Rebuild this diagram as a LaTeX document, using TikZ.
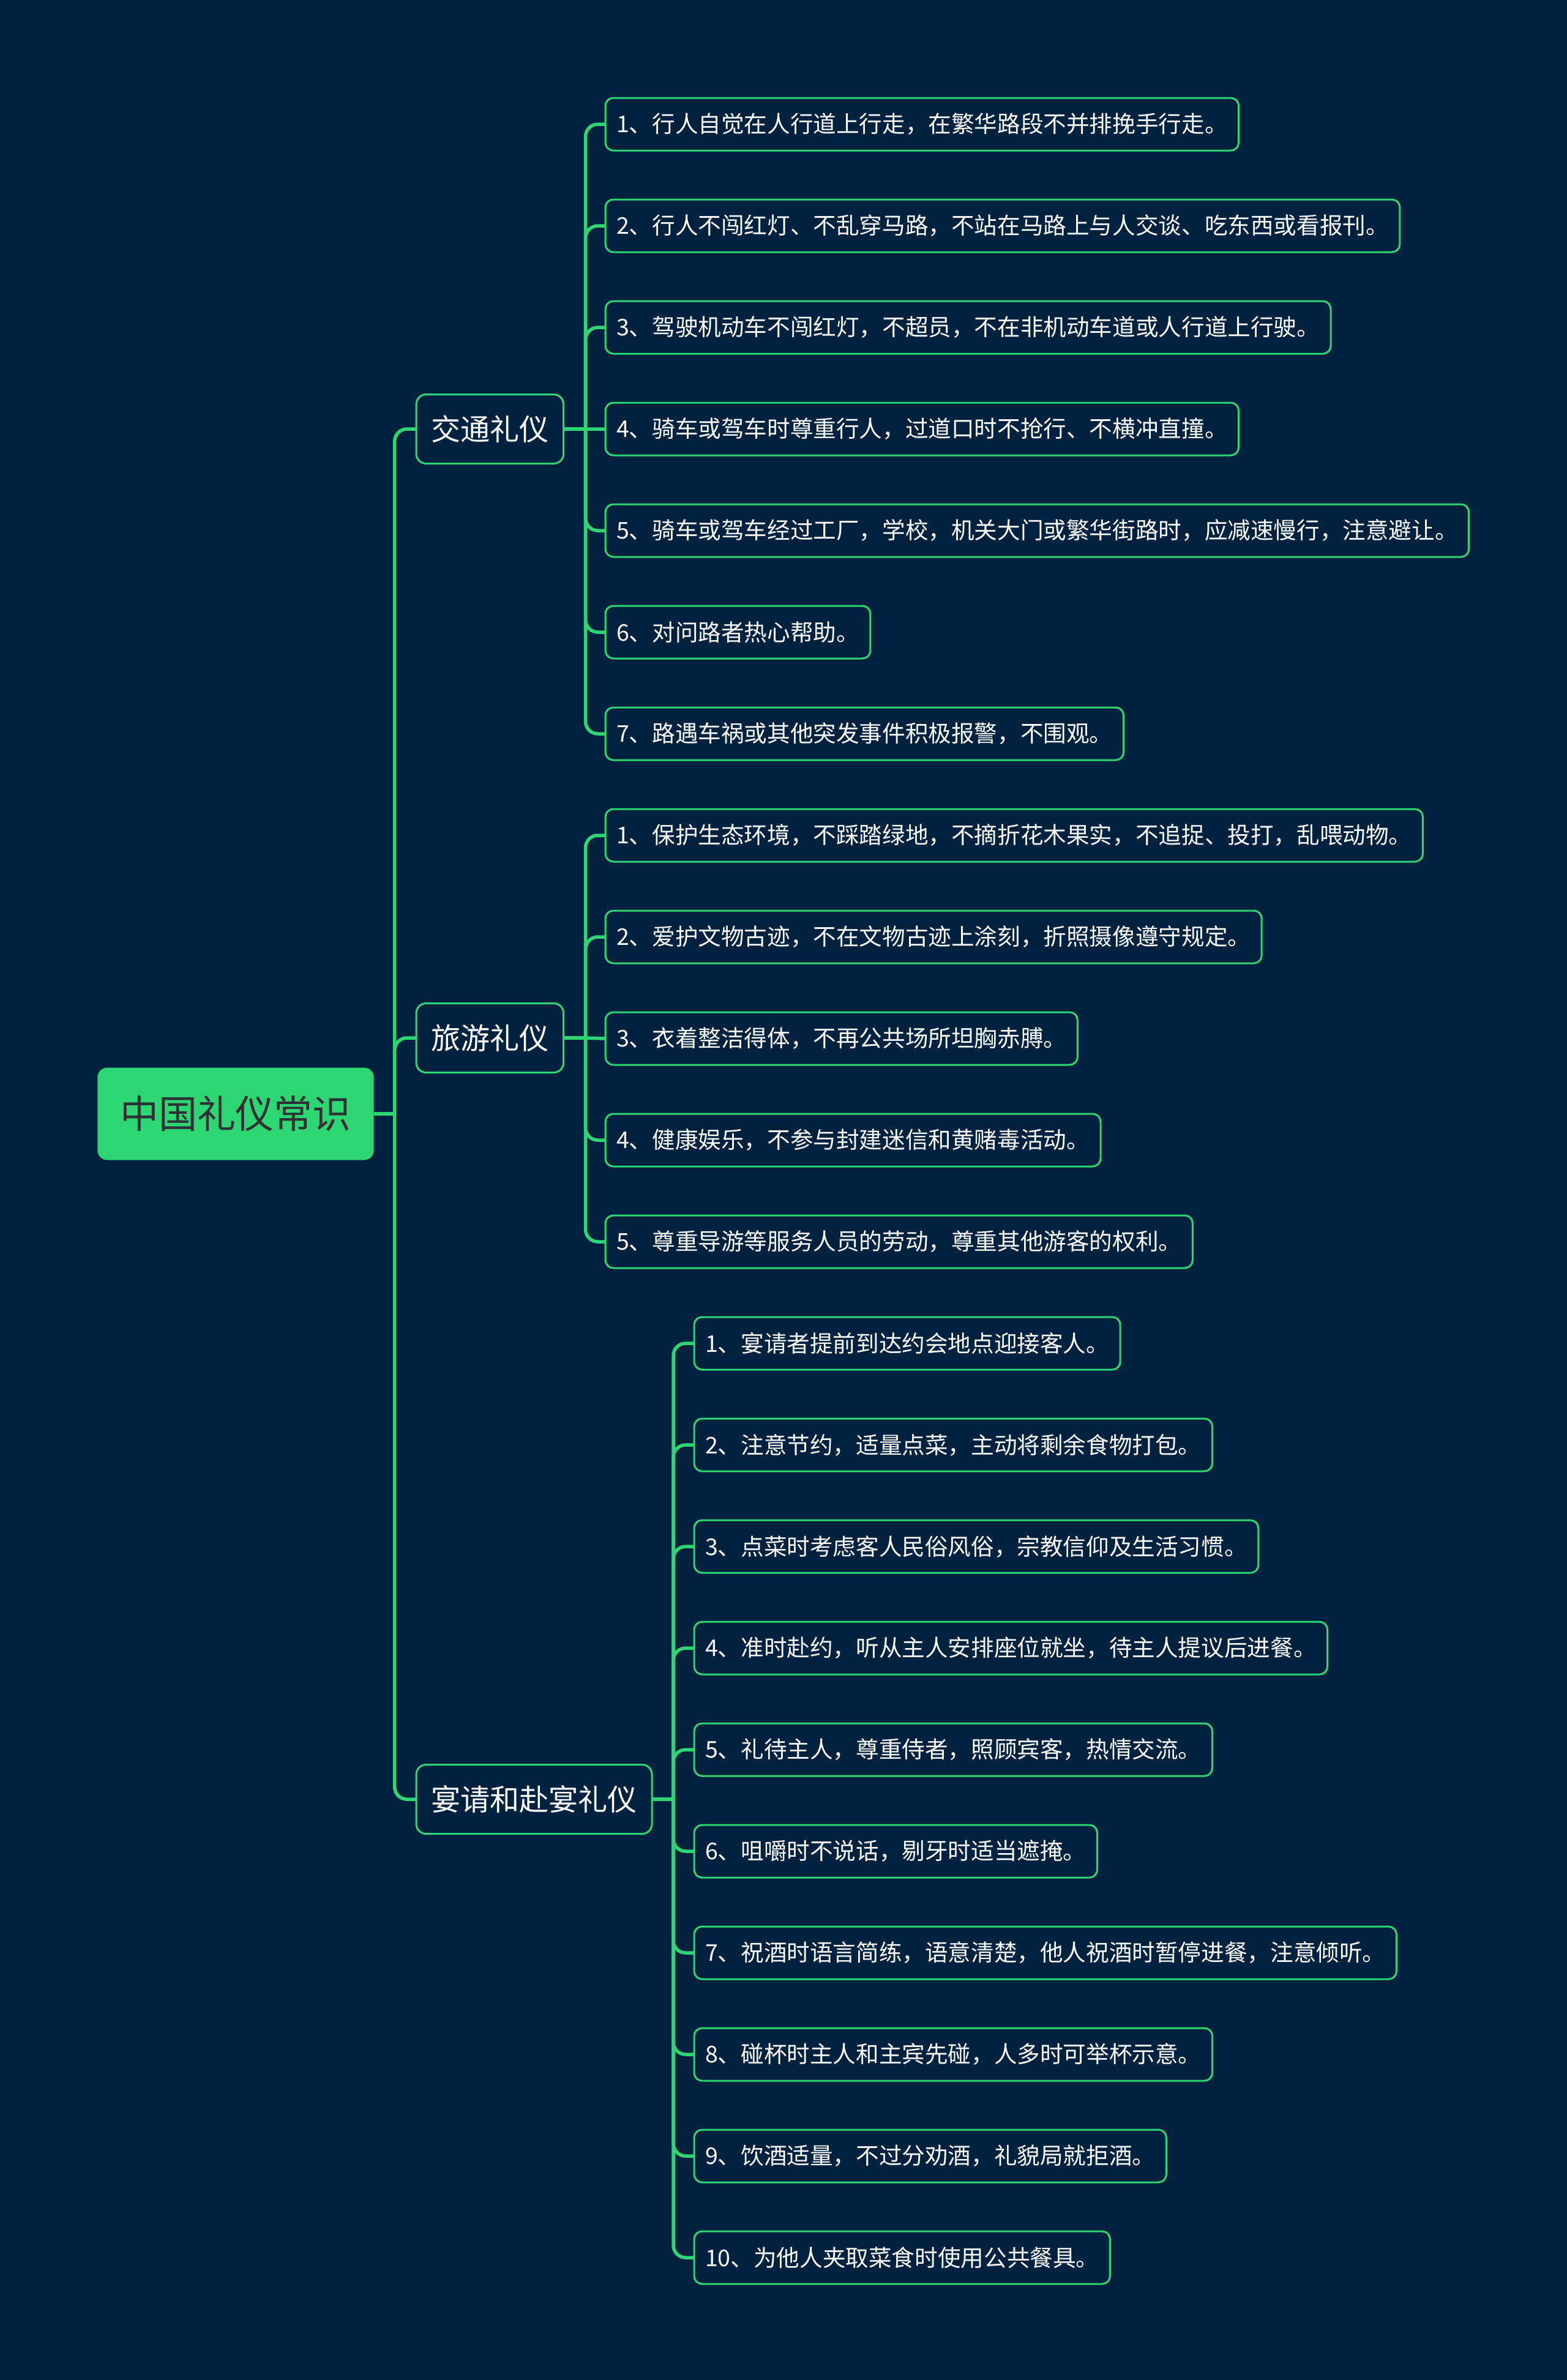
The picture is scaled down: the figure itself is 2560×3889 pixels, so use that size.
\documentclass[tikz,border=0pt]{standalone}
\usepackage{fontspec}
\setmainfont{Noto Sans CJK SC}
\usetikzlibrary{positioning}
\definecolor{night}{RGB}{1,34,63}
\definecolor{mint}{RGB}{46,213,115}
\definecolor{ink}{RGB}{45,48,52}

\begin{document}
\begin{tikzpicture}[x=0.1mm,y=-0.1mm,node distance=8mm,
    root/.style={fill=mint,rounded corners=1.6mm,text=ink,font=\fontsize{17.9pt}{20pt}\selectfont,minimum height=15.1mm,inner xsep=3.7mm,outer sep=0pt},
    branch/.style={draw=mint,line width=0.3mm,rounded corners=1.6mm,text=white,font=\fontsize{13.7pt}{16pt}\selectfont,minimum height=11.3mm,inner xsep=2.4mm,inner ysep=0pt,outer sep=0pt,anchor=west},
    leaf/.style={draw=mint,line width=0.3mm,rounded corners=1.3mm,text=white,font=\fontsize{10.7pt}{12pt}\selectfont,minimum height=8.6mm,inner xsep=1.8mm,inner ysep=0pt,outer sep=0pt},
    link/.style={draw=mint,line width=0.55mm,rounded corners=2mm}]
    \fill[night] (0,0) rectangle (2560,3889);
    \useasboundingbox (0,0) rectangle (2560,3889);

    \node[root] (root) at (385,1820) {中国礼仪常识};
    \node[branch] (b1) at (680,701) {交通礼仪};
    \node[branch] (b2) at (680,1696) {旅游礼仪};
    \node[branch] (b3) at (680,2940) {宴请和赴宴礼仪};

    % 交通礼仪
    \node[leaf,anchor=west] (t1) at (989,203) {1、行人自觉在人行道上行走，在繁华路段不并排挽手行走。};
    \node[leaf,below=of t1.south west,anchor=north west] (t2) {2、行人不闯红灯、不乱穿马路，不站在马路上与人交谈、吃东西或看报刊。};
    \node[leaf,below=of t2.south west,anchor=north west] (t3) {3、驾驶机动车不闯红灯，不超员，不在非机动车道或人行道上行驶。};
    \node[leaf,below=of t3.south west,anchor=north west] (t4) {4、骑车或驾车时尊重行人，过道口时不抢行、不横冲直撞。};
    \node[leaf,below=of t4.south west,anchor=north west] (t5) {5、骑车或驾车经过工厂，学校，机关大门或繁华街路时，应减速慢行，注意避让。};
    \node[leaf,below=of t5.south west,anchor=north west] (t6) {6、对问路者热心帮助。};
    \node[leaf,below=of t6.south west,anchor=north west] (t7) {7、路遇车祸或其他突发事件积极报警，不围观。};

    % 旅游礼仪
    \node[leaf,below=of t7.south west,anchor=north west] (v1) {1、保护生态环境，不踩踏绿地，不摘折花木果实，不追捉、投打，乱喂动物。};
    \node[leaf,below=of v1.south west,anchor=north west] (v2) {2、爱护文物古迹，不在文物古迹上涂刻，折照摄像遵守规定。};
    \node[leaf,below=of v2.south west,anchor=north west] (v3) {3、衣着整洁得体，不再公共场所坦胸赤膊。};
    \node[leaf,below=of v3.south west,anchor=north west] (v4) {4、健康娱乐，不参与封建迷信和黄赌毒活动。};
    \node[leaf,below=of v4.south west,anchor=north west] (v5) {5、尊重导游等服务人员的劳动，尊重其他游客的权利。};

    % 宴请和赴宴礼仪
    \node[leaf,anchor=west] (f1) at (1134,2195) {1、宴请者提前到达约会地点迎接客人。};
    \node[leaf,below=of f1.south west,anchor=north west] (f2) {2、注意节约，适量点菜，主动将剩余食物打包。};
    \node[leaf,below=of f2.south west,anchor=north west] (f3) {3、点菜时考虑客人民俗风俗，宗教信仰及生活习惯。};
    \node[leaf,below=of f3.south west,anchor=north west] (f4) {4、准时赴约，听从主人安排座位就坐，待主人提议后进餐。};
    \node[leaf,below=of f4.south west,anchor=north west] (f5) {5、礼待主人，尊重侍者，照顾宾客，热情交流。};
    \node[leaf,below=of f5.south west,anchor=north west] (f6) {6、咀嚼时不说话，剔牙时适当遮掩。};
    \node[leaf,below=of f6.south west,anchor=north west] (f7) {7、祝酒时语言简练，语意清楚，他人祝酒时暂停进餐，注意倾听。};
    \node[leaf,below=of f7.south west,anchor=north west] (f8) {8、碰杯时主人和主宾先碰，人多时可举杯示意。};
    \node[leaf,below=of f8.south west,anchor=north west] (f9) {9、饮酒适量，不过分劝酒，礼貌局就拒酒。};
    \node[leaf,below=of f9.south west,anchor=north west] (f10) {10、为他人夹取菜食时使用公共餐具。};

    % connectors
    \coordinate (rj) at ([xshift=3.4mm]root.east);
    \coordinate (j1) at ([xshift=3.6mm]b1.east);
    \coordinate (j2) at ([xshift=3.6mm]b2.east);
    \coordinate (j3) at ([xshift=3.5mm]b3.east);
    \draw[link] (root.east)--(rj);
    \draw[link] (rj) |- (b1.west); \draw[link] (rj) |- (b2.west); \draw[link] (rj) |- (b3.west);
    \draw[link] (b1.east)--(j1); \draw[link] (b2.east)--(j2); \draw[link] (b3.east)--(j3);
    \draw[link] (j1) |- (t1.west); \draw[link] (j1) |- (t2.west); \draw[link] (j1) |- (t3.west);
    \draw[link] (j1)--(t4.west); \draw[link] (j1) |- (t5.west); \draw[link] (j1) |- (t6.west);
    \draw[link] (j1) |- (t7.west);
    \draw[link] (j2) |- (v1.west); \draw[link] (j2) |- (v2.west); \draw[link] (j2)--(v3.west);
    \draw[link] (j2) |- (v4.west); \draw[link] (j2) |- (v5.west);
    \draw[link] (j3) |- (f1.west); \draw[link] (j3) |- (f2.west); \draw[link] (j3) |- (f3.west);
    \draw[link] (j3) |- (f4.west); \draw[link] (j3) |- (f5.west); \draw[link] (j3) |- (f6.west);
    \draw[link] (j3) |- (f7.west); \draw[link] (j3) |- (f8.west); \draw[link] (j3) |- (f9.west);
    \draw[link] (j3) |- (f10.west);
  \end{tikzpicture}
\end{document}
